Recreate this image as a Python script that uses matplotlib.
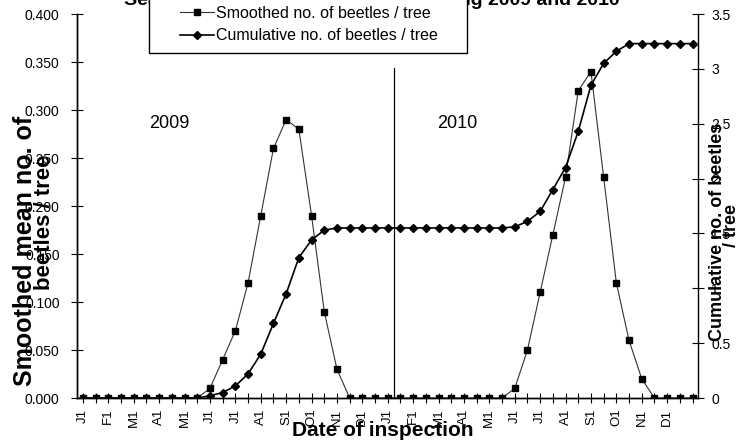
import matplotlib
matplotlib.use("Agg")
import matplotlib.pyplot as plt
from matplotlib.patches import Rectangle
import numpy as np

plt.rcParams['font.family'] = ['Liberation Sans', 'DejaVu Sans']

# fortnightly inspections, Jan 2009 - Jan 2011
months = ["J1", "F1", "M1", "A1", "M1", "J1", "J1", "A1", "S1", "O1", "N1", "D1"]
tick_labels = months + months

smoothed = [0.00, 0.00, 0.00, 0.00, 0.00, 0.00, 0.00, 0.00, 0.00, 0.00,
            0.01, 0.04, 0.07, 0.12, 0.19, 0.26, 0.29, 0.28, 0.19, 0.09,
            0.03, 0.00, 0.00, 0.00, 0.00, 0.00, 0.00, 0.00, 0.00, 0.00,
            0.00, 0.00, 0.00, 0.00, 0.01, 0.05, 0.11, 0.17, 0.23, 0.32,
            0.34, 0.23, 0.12, 0.06, 0.02, 0.00, 0.00, 0.00, 0.00]

cumulative = [0.00, 0.00, 0.00, 0.00, 0.00, 0.00, 0.00, 0.00, 0.00, 0.00,
              0.02, 0.05, 0.11, 0.22, 0.40, 0.68, 0.95, 1.28, 1.44, 1.53,
              1.55, 1.55, 1.55, 1.55, 1.55, 1.55, 1.55, 1.55, 1.55, 1.55,
              1.55, 1.55, 1.55, 1.55, 1.56, 1.61, 1.70, 1.90, 2.10, 2.43,
              2.85, 3.05, 3.16, 3.23, 3.23, 3.23, 3.23, 3.23, 3.23]

left_ticks = [0.0, 0.05, 0.1, 0.15, 0.2, 0.25, 0.3, 0.35, 0.4]
right_ticks = [0, 0.5, 1, 1.5, 2, 2.5, 3, 3.5]
right_tick_labels = ["0", "0.5", "1", "1.5", "2", "2.5", "3", "3.5"]

W, H = 748, 442
fig = plt.figure(figsize=(W / 100, H / 100), dpi=100)
ax = fig.add_axes([77 / W, 1 - 398 / H, (698 - 77) / W, 384 / H])
ax2 = ax.twinx()

x = np.arange(len(smoothed))
l1, = ax.plot(x, smoothed, color='#333333', lw=0.8, marker='s', ms=5,
              mfc='black', mec='black', label="Smoothed no. of beetles / tree")
l2, = ax2.plot(x, cumulative, color='black', lw=1.2, marker='D', ms=4,
               mfc='black', mec='black', label="Cumulative no. of beetles / tree")

ax.set_xlim(-0.47, 48.43)
ax.set_ylim(0, 0.4)
ax2.set_ylim(0, 3.5)

for a in (ax, ax2):
    a.spines['top'].set_visible(False)
    for s in a.spines.values():
        s.set_linewidth(1.0)
ax.spines['right'].set_visible(False)

xt_labels = []
for i in x:
    if i % 2 == 0 and i // 2 < len(tick_labels):
        xt_labels.append(tick_labels[i // 2])
    else:
        xt_labels.append("")
ax.set_xticks(x)
ax.set_xticklabels(xt_labels)
ax.tick_params(axis='x', direction='inout', length=7, width=0.8,
               labelrotation=90, labelsize=9.5, pad=4)

ax.set_yticks(left_ticks)
ax.set_yticklabels(["%.3f" % v for v in left_ticks])
ax.tick_params(axis='y', direction='inout', length=9, width=0.8,
               labelsize=10, pad=8)

ax2.set_yticks(right_ticks)
ax2.set_yticklabels(right_tick_labels)
ax2.tick_params(axis='y', direction='inout', length=9, width=0.8,
                labelsize=10, pad=5)

# separator between years
ax.axvline(24.5, ymin=0, ymax=(398 - 68) / 384, color='black', lw=0.9)

fig.text(169 / W, 1 - 124 / H, "2009", ha='center', va='center', fontsize=13)
fig.text(457 / W, 1 - 123 / H, "2010", ha='center', va='center', fontsize=13)

# title, mostly hidden behind the legend box
ax2.text(620 / W, 1 - 5 / H, "Seasonal occurrence of beetles during 2009 and 2010",
         transform=fig.transFigure, ha='right', va='baseline', fontsize=14,
         fontweight='bold', zorder=1, clip_on=False)

# legend box
box = Rectangle((149 / W, 1 - 53 / H), (467 - 149) / W, 60 / H,
                transform=fig.transFigure, facecolor='white', edgecolor='black',
                lw=1.0, zorder=4, clip_on=False)
ax2.add_patch(box)

leg = ax2.legend([l1, l2], [l1.get_label(), l2.get_label()], loc='center left',
                 bbox_to_anchor=(180 / W, 1 - 24.5 / H), bbox_transform=fig.transFigure,
                 frameon=False, fontsize=11.5, borderpad=0, handlelength=2.1,
                 handletextpad=0.15, labelspacing=0.45, borderaxespad=0)
leg.set_zorder(5)

fig.text(25 / W, 1 - 251 / H, "Smoothed mean no. of", rotation=90, ha='center',
         va='center', fontsize=18, fontweight='bold')
fig.text(44 / W, 1 - 222 / H, "beetles / tree", rotation=90, ha='center',
         va='center', fontsize=16, fontweight='bold')
fig.text(718 / W, 1 - 232 / H, "Cumulative no. of beetles", rotation=90, ha='center',
         va='center', fontsize=13, fontweight='bold')
fig.text(731 / W, 1 - 226 / H, "/ tree", rotation=90, ha='center',
         va='center', fontsize=13, fontweight='bold')
fig.text(383 / W, 1 - 430 / H, "Date of inspection", ha='center', va='center',
         fontsize=15, fontweight='bold')

fig.savefig("out.png", dpi=100)
